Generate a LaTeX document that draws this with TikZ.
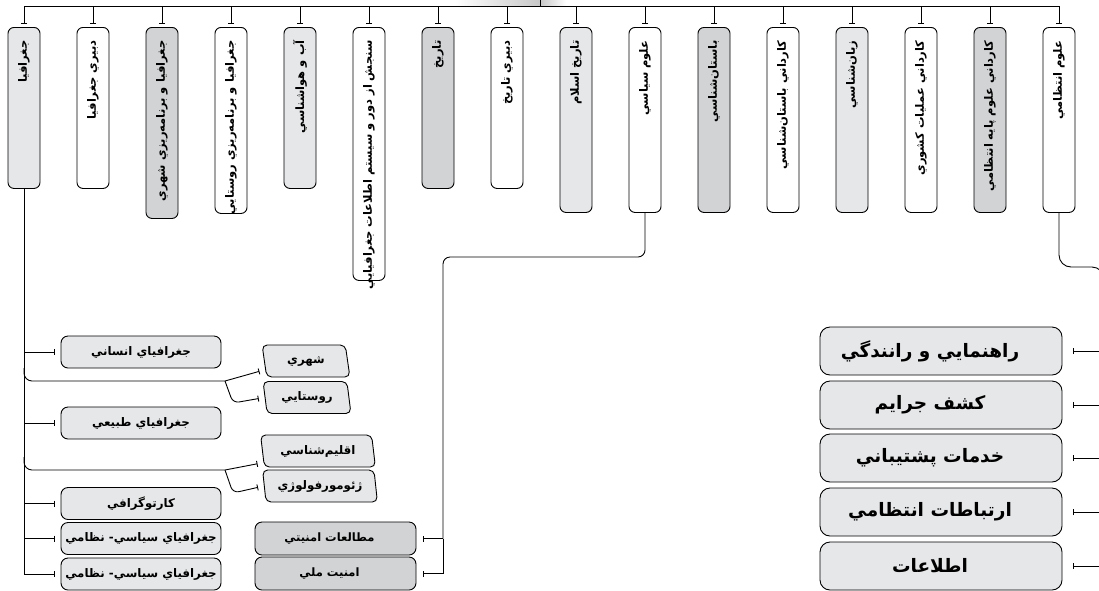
\documentclass[tikz,border=0pt]{standalone}
\usepackage{fontspec}
\usetikzlibrary{arrows.meta,shapes.geometric}
\definecolor{lightgr}{HTML}{E6E7E8}
\definecolor{midgr}{HTML}{D1D3D4}
\newfontfamily\farsi[Script=Arabic]{DejaVu Sans}
\TeXXeTstate=1
% right-aligned line of fixed width, may run past the box end
\newcommand{\toptxt}[2]{\hbox to #1pt{\hss #2}}

\begin{document}
\begin{tikzpicture}[x=1pt, y=-1pt, line width=0.9pt,
    colbox/.style={rotate=90, anchor=east, draw, rounded corners=6pt,
      minimum width=#1pt, minimum height=32pt, inner sep=0pt,
      font=\farsi\bfseries\fontsize{11.5}{13}\selectfont},
    subbox/.style={draw, rounded corners=7pt, fill=lightgr, minimum width=160pt,
      minimum height=32pt, inner sep=2pt, font=\farsi\bfseries\fontsize{11.8}{13}\selectfont},
    slantbox/.style={trapezium, trapezium left angle=100, trapezium right angle=80,
      trapezium stretches=true, draw, rounded corners=5pt, fill=lightgr,
      minimum width=#1pt, minimum height=32pt, inner sep=2pt,
      font=\farsi\bfseries\fontsize{11.8}{13}\selectfont},
    secbox/.style={draw, rounded corners=7pt, fill=midgr, minimum width=161pt,
      minimum height=33pt, inner sep=2pt, execute at end node={\kern12pt},
      font=\farsi\bfseries\fontsize{11.5}{13}\selectfont},
    policebox/.style={draw, rounded corners=10pt, fill=lightgr, minimum width=242pt,
      minimum height=48pt, inner sep=2pt, execute at end node={\kern22pt},
      font=\farsi\bfseries\fontsize{18.5}{22}\selectfont},
    tick/.style={-{Bar[width=6pt]}, shorten >=3pt},
    barline/.style={-{Bar[width=6pt]}, shorten >=#1pt},
    barline/.default=6]
  \useasboundingbox (0,0) rectangle (1099,590);
  \clip (0,0) rectangle (1099,590);

  % root box shadow, cut by the top edge
  \shade[left color=white, right color=black!22] (455,0) rectangle (540,6);
  \shade[left color=black!22, right color=white] (540,0) rectangle (566,6);
  \coordinate (root) at (540,0);
  \coordinate (bus) at (0,6);
  \coordinate (edge) at (1099,0);

  % top row
  \node[colbox=161, fill=lightgr] (t1) at (24,27) {\toptxt{135}{\beginR جغرافيا\endR}};
  \node[colbox=161, fill=white] (t2) at (93,27) {\toptxt{135}{\beginR دبيري جغرافيا\endR}};
  \node[colbox=191, fill=midgr] (t3) at (162,27) {\toptxt{165}{\beginR جغرافيا و برنامه‌ريزي شهري\endR}};
  \node[colbox=186, fill=white] (t4) at (231,27) {\toptxt{160}{\beginR جغرافيا و برنامه‌ريزي روستايي\endR}};
  \node[colbox=161, fill=lightgr] (t5) at (300,27) {\toptxt{135}{\beginR آب و هواشناسي\endR}};
  \node[colbox=253, fill=white] (t6) at (369,27) {\toptxt{227}{\beginR سنجش از دور و سيستم اطلاعات جغرافيايي\endR}};
  \node[colbox=161, fill=midgr] (t7) at (438,27) {\toptxt{135}{\beginR تاريخ\endR}};
  \node[colbox=161, fill=white] (t8) at (507,27) {\toptxt{135}{\beginR دبيري تاريخ\endR}};
  \node[colbox=185, fill=lightgr] (t9) at (576,27) {\toptxt{159}{\beginR تاريخ اسلام\endR}};
  \node[colbox=185, fill=white] (t10) at (645,27) {\toptxt{159}{\beginR علوم سياسي\endR}};
  \node[colbox=185, fill=midgr] (t11) at (714,27) {\toptxt{159}{\beginR باستان‌شناسي\endR}};
  \node[colbox=185, fill=white] (t12) at (783,27) {\toptxt{159}{\beginR کارداني باستان‌شناسي\endR}};
  \node[colbox=185, fill=lightgr] (t13) at (852,27) {\toptxt{159}{\beginR زبان‌شناسي\endR}};
  \node[colbox=185, fill=white] (t14) at (921,27) {\toptxt{159}{\beginR کارداني عمليات کشوري\endR}};
  \node[colbox=185, fill=midgr] (t15) at (990,27) {\toptxt{159}{\beginR کارداني علوم پايه انتظامي\endR}};
  \node[colbox=185, fill=white] (t16) at (1059,27) {\toptxt{159}{\beginR علوم انتظامي\endR}};

  \draw (t1.east |- bus) -- (t16.east |- bus);
  \draw (root) -- (root |- bus);
  \foreach \t in {t1,t2,t3,t4,t5,t6,t7,t8,t9,t10,t11,t12,t13,t14,t15,t16}
    \draw[tick] (\t.east |- bus) -- (\t.east);

  % geography branches
  \node[subbox] (g1) at (141,352) {\beginR جغرافياي انساني\endR};
  \node[subbox] (g2) at (141,423) {\beginR جغرافياي طبيعي\endR};
  \node[subbox] (g3) at (141,503.5) {\beginR کارتوگرافي\endR};
  \node[subbox] (g4) at (141,538.5) {\beginR جغرافياي سياسي- نظامي\endR};
  \node[subbox] (g5) at (141,574) {\beginR جغرافياي سياسي- نظامي\endR};

  \node[slantbox=88] (p1) at (306,361) {\beginR شهري\endR};
  \node[slantbox=88] (p2) at (307,397.5) {\beginR روستايي\endR};
  \node[slantbox=115] (p3) at (318,451) {\beginR اقليم‌شناسي\endR};
  \node[slantbox=115] (p4) at (320,486) {\beginR ژئومورفولوژي\endR};

  \draw[barline] (t1.west) |- (g5.west);
  \draw[barline] (t1.west |- g1.west) -- (g1.west);
  \draw[barline] (t1.west |- g2.west) -- (g2.west);
  \draw[barline] (t1.west |- g3.west) -- (g3.west);
  \draw[barline] (t1.west |- g4.west) -- (g4.west);

  \coordinate (s1) at (225,381);
  \coordinate (s2) at (225,470);
  \draw[rounded corners=8pt] (t1.west |- 0,368) |- (s1);
  \draw[barline] (s1) -- (p1.192);
  \draw[barline, rounded corners=6pt] (s1) -- (233,403) -- (p2.west);
  \draw[rounded corners=8pt] (t1.west |- 0,457) |- (s2);
  \draw[barline] (s2) -- (p3.192);
  \draw[barline, rounded corners=6pt] (s2) -- (233,493) -- (p4.west);

  % political science branch
  \node[secbox] (n1) at (335.5,538.5) {\beginR مطالعات امنيتي\endR};
  \node[secbox] (n2) at (335.5,573.5) {\beginR امنيت ملي\endR};
  \coordinate (mid) at (443,257);
  \draw[rounded corners=7pt] (t10.west) |- (mid) -- (mid |- n1.east);
  \draw[barline=7] (mid |- n1.east) |- (n2.east);
  \draw[barline=7] (mid |- n1.east) -- (n1.east);

  % police branch
  \draw[rounded corners=12pt] (t16.west) |- (1104,267) -- (1104,300);
  \node[policebox] (r1) at (941,351) {\beginR راهنمايي و رانندگي\endR};
  \node[policebox] (r2) at (941,405) {\beginR کشف جرايم\endR};
  \node[policebox] (r3) at (941,458) {\beginR خدمات پشتيباني\endR};
  \node[policebox] (r4) at (941,512) {\beginR ارتباطات انتظامي\endR};
  \node[policebox] (r5) at (941,566) {\beginR اطلاعات\endR};
  \foreach \r in {r1,r2,r3,r4,r5}
    \draw[barline=11] (\r.east -| edge) -- (\r.east);
\end{tikzpicture}
\end{document}
